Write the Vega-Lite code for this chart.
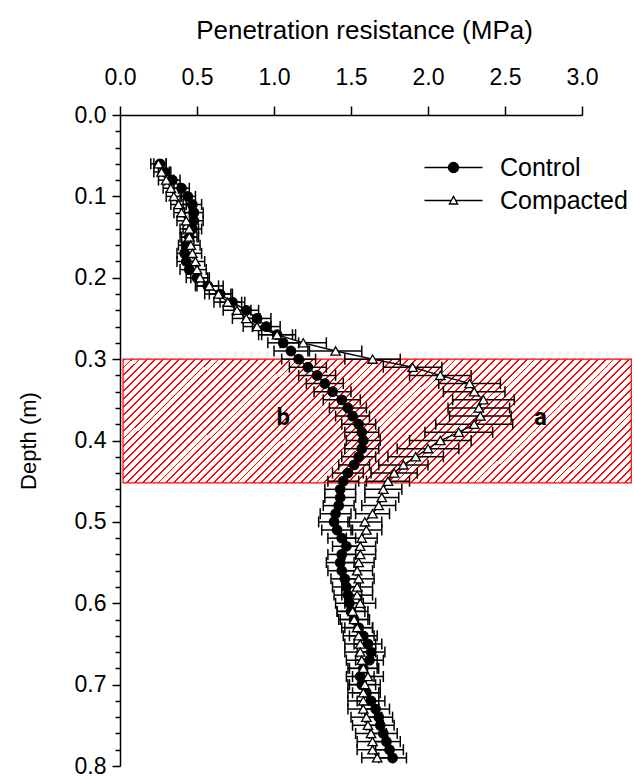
{
  "$schema": "https://vega.github.io/schema/vega-lite/v6.json",
  "width": 462,
  "height": 651,
  "autosize": {"type": "none"},
  "padding": {"left": 120, "top": 115, "right": 52, "bottom": 14},
  "background": "white",
  "config": {
    "view": {"stroke": null},
    "font": "Liberation Sans",
    "axis": {"domainColor": "black", "domainWidth": 1.5, "tickColor": "black", "tickWidth": 1.5, "labelColor": "black", "titleColor": "black", "labelFont": "Liberation Sans", "titleFont": "Liberation Sans", "titleFontWeight": "normal", "grid": false, "labelFontSize": 23, "titleFontSize": 25, "labelFlush": false, "labelOverlap": false}
  },
  "datasets": {
    "zone": [{"v": 0.02, "v2": 3.32, "d": 0.3, "d2": 0.452}],
    "ann": [{"label": "b", "v": 1.06, "d": 0.372}, {"label": "a", "v": 2.73, "d": 0.372}],
    "pr": [
      {"s": "Control", "d": 0.06, "v": 0.26, "e": 0.04},
      {"s": "Control", "d": 0.07, "v": 0.29, "e": 0.04},
      {"s": "Control", "d": 0.08, "v": 0.34, "e": 0.05},
      {"s": "Control", "d": 0.09, "v": 0.40, "e": 0.05},
      {"s": "Control", "d": 0.10, "v": 0.44, "e": 0.05},
      {"s": "Control", "d": 0.11, "v": 0.47, "e": 0.06},
      {"s": "Control", "d": 0.12, "v": 0.48, "e": 0.06},
      {"s": "Control", "d": 0.13, "v": 0.48, "e": 0.06},
      {"s": "Control", "d": 0.14, "v": 0.47, "e": 0.06},
      {"s": "Control", "d": 0.15, "v": 0.45, "e": 0.05},
      {"s": "Control", "d": 0.16, "v": 0.43, "e": 0.05},
      {"s": "Control", "d": 0.17, "v": 0.42, "e": 0.05},
      {"s": "Control", "d": 0.18, "v": 0.43, "e": 0.06},
      {"s": "Control", "d": 0.19, "v": 0.45, "e": 0.06},
      {"s": "Control", "d": 0.20, "v": 0.50, "e": 0.07},
      {"s": "Control", "d": 0.21, "v": 0.57, "e": 0.07},
      {"s": "Control", "d": 0.22, "v": 0.65, "e": 0.07},
      {"s": "Control", "d": 0.23, "v": 0.73, "e": 0.08},
      {"s": "Control", "d": 0.24, "v": 0.82, "e": 0.08},
      {"s": "Control", "d": 0.25, "v": 0.89, "e": 0.09},
      {"s": "Control", "d": 0.26, "v": 0.95, "e": 0.09},
      {"s": "Control", "d": 0.27, "v": 1.02, "e": 0.10},
      {"s": "Control", "d": 0.28, "v": 1.06, "e": 0.10},
      {"s": "Control", "d": 0.29, "v": 1.11, "e": 0.11},
      {"s": "Control", "d": 0.30, "v": 1.16, "e": 0.11},
      {"s": "Control", "d": 0.31, "v": 1.22, "e": 0.12},
      {"s": "Control", "d": 0.32, "v": 1.28, "e": 0.12},
      {"s": "Control", "d": 0.33, "v": 1.33, "e": 0.12},
      {"s": "Control", "d": 0.34, "v": 1.38, "e": 0.12},
      {"s": "Control", "d": 0.35, "v": 1.44, "e": 0.12},
      {"s": "Control", "d": 0.36, "v": 1.48, "e": 0.12},
      {"s": "Control", "d": 0.37, "v": 1.51, "e": 0.11},
      {"s": "Control", "d": 0.38, "v": 1.55, "e": 0.11},
      {"s": "Control", "d": 0.39, "v": 1.57, "e": 0.11},
      {"s": "Control", "d": 0.40, "v": 1.58, "e": 0.11},
      {"s": "Control", "d": 0.41, "v": 1.57, "e": 0.11},
      {"s": "Control", "d": 0.42, "v": 1.55, "e": 0.11},
      {"s": "Control", "d": 0.43, "v": 1.52, "e": 0.10},
      {"s": "Control", "d": 0.44, "v": 1.48, "e": 0.10},
      {"s": "Control", "d": 0.45, "v": 1.45, "e": 0.10},
      {"s": "Control", "d": 0.46, "v": 1.43, "e": 0.10},
      {"s": "Control", "d": 0.47, "v": 1.43, "e": 0.10},
      {"s": "Control", "d": 0.48, "v": 1.42, "e": 0.10},
      {"s": "Control", "d": 0.49, "v": 1.40, "e": 0.10},
      {"s": "Control", "d": 0.50, "v": 1.39, "e": 0.10},
      {"s": "Control", "d": 0.51, "v": 1.41, "e": 0.10},
      {"s": "Control", "d": 0.52, "v": 1.44, "e": 0.09},
      {"s": "Control", "d": 0.53, "v": 1.47, "e": 0.09},
      {"s": "Control", "d": 0.54, "v": 1.44, "e": 0.09},
      {"s": "Control", "d": 0.55, "v": 1.43, "e": 0.09},
      {"s": "Control", "d": 0.56, "v": 1.44, "e": 0.09},
      {"s": "Control", "d": 0.57, "v": 1.46, "e": 0.09},
      {"s": "Control", "d": 0.58, "v": 1.47, "e": 0.09},
      {"s": "Control", "d": 0.59, "v": 1.48, "e": 0.09},
      {"s": "Control", "d": 0.60, "v": 1.49, "e": 0.09},
      {"s": "Control", "d": 0.61, "v": 1.50, "e": 0.09},
      {"s": "Control", "d": 0.62, "v": 1.52, "e": 0.09},
      {"s": "Control", "d": 0.63, "v": 1.55, "e": 0.09},
      {"s": "Control", "d": 0.64, "v": 1.58, "e": 0.09},
      {"s": "Control", "d": 0.65, "v": 1.61, "e": 0.09},
      {"s": "Control", "d": 0.66, "v": 1.63, "e": 0.09},
      {"s": "Control", "d": 0.67, "v": 1.62, "e": 0.09},
      {"s": "Control", "d": 0.68, "v": 1.58, "e": 0.09},
      {"s": "Control", "d": 0.69, "v": 1.56, "e": 0.09},
      {"s": "Control", "d": 0.70, "v": 1.57, "e": 0.09},
      {"s": "Control", "d": 0.71, "v": 1.60, "e": 0.09},
      {"s": "Control", "d": 0.72, "v": 1.63, "e": 0.09},
      {"s": "Control", "d": 0.73, "v": 1.66, "e": 0.09},
      {"s": "Control", "d": 0.74, "v": 1.68, "e": 0.09},
      {"s": "Control", "d": 0.75, "v": 1.69, "e": 0.09},
      {"s": "Control", "d": 0.76, "v": 1.71, "e": 0.09},
      {"s": "Control", "d": 0.77, "v": 1.73, "e": 0.09},
      {"s": "Control", "d": 0.78, "v": 1.75, "e": 0.09},
      {"s": "Control", "d": 0.79, "v": 1.77, "e": 0.09},
      {"s": "Compacted", "d": 0.06, "v": 0.25, "e": 0.05},
      {"s": "Compacted", "d": 0.07, "v": 0.27, "e": 0.05},
      {"s": "Compacted", "d": 0.08, "v": 0.30, "e": 0.05},
      {"s": "Compacted", "d": 0.09, "v": 0.33, "e": 0.05},
      {"s": "Compacted", "d": 0.10, "v": 0.35, "e": 0.05},
      {"s": "Compacted", "d": 0.11, "v": 0.38, "e": 0.05},
      {"s": "Compacted", "d": 0.12, "v": 0.40, "e": 0.05},
      {"s": "Compacted", "d": 0.13, "v": 0.43, "e": 0.06},
      {"s": "Compacted", "d": 0.14, "v": 0.45, "e": 0.06},
      {"s": "Compacted", "d": 0.15, "v": 0.45, "e": 0.06},
      {"s": "Compacted", "d": 0.16, "v": 0.46, "e": 0.06},
      {"s": "Compacted", "d": 0.17, "v": 0.47, "e": 0.06},
      {"s": "Compacted", "d": 0.18, "v": 0.49, "e": 0.06},
      {"s": "Compacted", "d": 0.19, "v": 0.50, "e": 0.06},
      {"s": "Compacted", "d": 0.20, "v": 0.52, "e": 0.06},
      {"s": "Compacted", "d": 0.21, "v": 0.58, "e": 0.09},
      {"s": "Compacted", "d": 0.22, "v": 0.64, "e": 0.09},
      {"s": "Compacted", "d": 0.23, "v": 0.70, "e": 0.09},
      {"s": "Compacted", "d": 0.24, "v": 0.76, "e": 0.09},
      {"s": "Compacted", "d": 0.25, "v": 0.82, "e": 0.09},
      {"s": "Compacted", "d": 0.26, "v": 0.89, "e": 0.09},
      {"s": "Compacted", "d": 0.27, "v": 1.02, "e": 0.12},
      {"s": "Compacted", "d": 0.28, "v": 1.19, "e": 0.15},
      {"s": "Compacted", "d": 0.29, "v": 1.40, "e": 0.17},
      {"s": "Compacted", "d": 0.30, "v": 1.64, "e": 0.18},
      {"s": "Compacted", "d": 0.31, "v": 1.90, "e": 0.19},
      {"s": "Compacted", "d": 0.32, "v": 2.08, "e": 0.20},
      {"s": "Compacted", "d": 0.33, "v": 2.27, "e": 0.20},
      {"s": "Compacted", "d": 0.34, "v": 2.30, "e": 0.20},
      {"s": "Compacted", "d": 0.35, "v": 2.36, "e": 0.20},
      {"s": "Compacted", "d": 0.36, "v": 2.33, "e": 0.20},
      {"s": "Compacted", "d": 0.37, "v": 2.34, "e": 0.20},
      {"s": "Compacted", "d": 0.38, "v": 2.30, "e": 0.25},
      {"s": "Compacted", "d": 0.39, "v": 2.20, "e": 0.22},
      {"s": "Compacted", "d": 0.40, "v": 2.08, "e": 0.20},
      {"s": "Compacted", "d": 0.41, "v": 2.00, "e": 0.20},
      {"s": "Compacted", "d": 0.42, "v": 1.92, "e": 0.18},
      {"s": "Compacted", "d": 0.43, "v": 1.84, "e": 0.16},
      {"s": "Compacted", "d": 0.44, "v": 1.78, "e": 0.15},
      {"s": "Compacted", "d": 0.45, "v": 1.74, "e": 0.14},
      {"s": "Compacted", "d": 0.46, "v": 1.71, "e": 0.12},
      {"s": "Compacted", "d": 0.47, "v": 1.70, "e": 0.11},
      {"s": "Compacted", "d": 0.48, "v": 1.68, "e": 0.11},
      {"s": "Compacted", "d": 0.49, "v": 1.64, "e": 0.11},
      {"s": "Compacted", "d": 0.50, "v": 1.59, "e": 0.11},
      {"s": "Compacted", "d": 0.51, "v": 1.60, "e": 0.10},
      {"s": "Compacted", "d": 0.52, "v": 1.57, "e": 0.10},
      {"s": "Compacted", "d": 0.53, "v": 1.56, "e": 0.10},
      {"s": "Compacted", "d": 0.54, "v": 1.56, "e": 0.10},
      {"s": "Compacted", "d": 0.55, "v": 1.55, "e": 0.10},
      {"s": "Compacted", "d": 0.56, "v": 1.54, "e": 0.10},
      {"s": "Compacted", "d": 0.57, "v": 1.55, "e": 0.10},
      {"s": "Compacted", "d": 0.58, "v": 1.54, "e": 0.10},
      {"s": "Compacted", "d": 0.59, "v": 1.54, "e": 0.10},
      {"s": "Compacted", "d": 0.60, "v": 1.56, "e": 0.10},
      {"s": "Compacted", "d": 0.61, "v": 1.51, "e": 0.10},
      {"s": "Compacted", "d": 0.62, "v": 1.52, "e": 0.10},
      {"s": "Compacted", "d": 0.63, "v": 1.54, "e": 0.10},
      {"s": "Compacted", "d": 0.64, "v": 1.55, "e": 0.10},
      {"s": "Compacted", "d": 0.65, "v": 1.56, "e": 0.10},
      {"s": "Compacted", "d": 0.66, "v": 1.56, "e": 0.10},
      {"s": "Compacted", "d": 0.67, "v": 1.57, "e": 0.10},
      {"s": "Compacted", "d": 0.68, "v": 1.58, "e": 0.10},
      {"s": "Compacted", "d": 0.69, "v": 1.61, "e": 0.10},
      {"s": "Compacted", "d": 0.70, "v": 1.59, "e": 0.10},
      {"s": "Compacted", "d": 0.71, "v": 1.58, "e": 0.10},
      {"s": "Compacted", "d": 0.72, "v": 1.58, "e": 0.10},
      {"s": "Compacted", "d": 0.73, "v": 1.58, "e": 0.10},
      {"s": "Compacted", "d": 0.74, "v": 1.60, "e": 0.10},
      {"s": "Compacted", "d": 0.75, "v": 1.61, "e": 0.10},
      {"s": "Compacted", "d": 0.76, "v": 1.63, "e": 0.10},
      {"s": "Compacted", "d": 0.77, "v": 1.64, "e": 0.10},
      {"s": "Compacted", "d": 0.78, "v": 1.64, "e": 0.10},
      {"s": "Compacted", "d": 0.79, "v": 1.67, "e": 0.10}
    ]
  },
  "encoding": {
    "x": {
      "field": "v", "type": "quantitative",
      "scale": {"domain": [0, 3], "nice": false, "zero": false},
      "axis": {"orient": "top", "values": [0, 0.5, 1, 1.5, 2, 2.5, 3], "format": ".1f", "tickSize": 9, "labelPadding": 17, "title": "Penetration resistance (MPa)", "titleFontSize": 26, "titlePadding": 23, "titleX": 244}
    },
    "y": {
      "field": "d", "type": "quantitative",
      "scale": {"domain": [0, 0.8], "reverse": true, "nice": false, "zero": false},
      "axis": {
        "orient": "left",
        "values": [0, 0.02, 0.04, 0.06, 0.08, 0.1, 0.12, 0.14, 0.16, 0.18, 0.2, 0.22, 0.24, 0.26, 0.28, 0.3, 0.32, 0.34, 0.36, 0.38, 0.4, 0.42, 0.44, 0.46, 0.48, 0.5, 0.52, 0.54, 0.56, 0.58, 0.6, 0.62, 0.64, 0.66, 0.68, 0.7, 0.72, 0.74, 0.76, 0.78, 0.8],
        "labelExpr": "round(datum.value*50) % 5 == 0 ? format(datum.value, '.1f') : ''",
        "tickSize": {"condition": {"test": "round(datum.value*50) % 5 == 0", "value": 8}, "value": 5},
        "labelPadding": 6,
        "title": "Depth (m)",
        "titleFontSize": 22,
        "titlePadding": 34
      }
    }
  },
  "layer": [
    {
      "data": {"name": "zone"},
      "mark": {
        "type": "rect", "stroke": "#ff0000", "strokeWidth": 1.2,
        "fill": {
          "gradient": "linear", "x1": 0, "y1": 0, "x2": 1.174, "y2": 0.2862,
          "stops": [
            {"offset": 0, "color": "#f00"}, {"offset": 0.003, "color": "#f00"}, {"offset": 0.003, "color": "#fff"}, {"offset": 0.0125, "color": "#fff"},
            {"offset": 0.0125, "color": "#f00"}, {"offset": 0.0155, "color": "#f00"}, {"offset": 0.0155, "color": "#fff"}, {"offset": 0.025, "color": "#fff"},
            {"offset": 0.025, "color": "#f00"}, {"offset": 0.028, "color": "#f00"}, {"offset": 0.028, "color": "#fff"}, {"offset": 0.0375, "color": "#fff"},
            {"offset": 0.0375, "color": "#f00"}, {"offset": 0.0405, "color": "#f00"}, {"offset": 0.0405, "color": "#fff"}, {"offset": 0.05, "color": "#fff"},
            {"offset": 0.05, "color": "#f00"}, {"offset": 0.053, "color": "#f00"}, {"offset": 0.053, "color": "#fff"}, {"offset": 0.0625, "color": "#fff"},
            {"offset": 0.0625, "color": "#f00"}, {"offset": 0.0655, "color": "#f00"}, {"offset": 0.0655, "color": "#fff"}, {"offset": 0.075, "color": "#fff"},
            {"offset": 0.075, "color": "#f00"}, {"offset": 0.078, "color": "#f00"}, {"offset": 0.078, "color": "#fff"}, {"offset": 0.0875, "color": "#fff"},
            {"offset": 0.0875, "color": "#f00"}, {"offset": 0.0905, "color": "#f00"}, {"offset": 0.0905, "color": "#fff"}, {"offset": 0.1, "color": "#fff"},
            {"offset": 0.1, "color": "#f00"}, {"offset": 0.103, "color": "#f00"}, {"offset": 0.103, "color": "#fff"}, {"offset": 0.1125, "color": "#fff"},
            {"offset": 0.1125, "color": "#f00"}, {"offset": 0.1155, "color": "#f00"}, {"offset": 0.1155, "color": "#fff"}, {"offset": 0.125, "color": "#fff"},
            {"offset": 0.125, "color": "#f00"}, {"offset": 0.128, "color": "#f00"}, {"offset": 0.128, "color": "#fff"}, {"offset": 0.1375, "color": "#fff"},
            {"offset": 0.1375, "color": "#f00"}, {"offset": 0.1405, "color": "#f00"}, {"offset": 0.1405, "color": "#fff"}, {"offset": 0.15, "color": "#fff"},
            {"offset": 0.15, "color": "#f00"}, {"offset": 0.153, "color": "#f00"}, {"offset": 0.153, "color": "#fff"}, {"offset": 0.1625, "color": "#fff"},
            {"offset": 0.1625, "color": "#f00"}, {"offset": 0.1655, "color": "#f00"}, {"offset": 0.1655, "color": "#fff"}, {"offset": 0.175, "color": "#fff"},
            {"offset": 0.175, "color": "#f00"}, {"offset": 0.178, "color": "#f00"}, {"offset": 0.178, "color": "#fff"}, {"offset": 0.1875, "color": "#fff"},
            {"offset": 0.1875, "color": "#f00"}, {"offset": 0.1905, "color": "#f00"}, {"offset": 0.1905, "color": "#fff"}, {"offset": 0.2, "color": "#fff"},
            {"offset": 0.2, "color": "#f00"}, {"offset": 0.203, "color": "#f00"}, {"offset": 0.203, "color": "#fff"}, {"offset": 0.2125, "color": "#fff"},
            {"offset": 0.2125, "color": "#f00"}, {"offset": 0.2155, "color": "#f00"}, {"offset": 0.2155, "color": "#fff"}, {"offset": 0.225, "color": "#fff"},
            {"offset": 0.225, "color": "#f00"}, {"offset": 0.228, "color": "#f00"}, {"offset": 0.228, "color": "#fff"}, {"offset": 0.2375, "color": "#fff"},
            {"offset": 0.2375, "color": "#f00"}, {"offset": 0.2405, "color": "#f00"}, {"offset": 0.2405, "color": "#fff"}, {"offset": 0.25, "color": "#fff"},
            {"offset": 0.25, "color": "#f00"}, {"offset": 0.253, "color": "#f00"}, {"offset": 0.253, "color": "#fff"}, {"offset": 0.2625, "color": "#fff"},
            {"offset": 0.2625, "color": "#f00"}, {"offset": 0.2655, "color": "#f00"}, {"offset": 0.2655, "color": "#fff"}, {"offset": 0.275, "color": "#fff"},
            {"offset": 0.275, "color": "#f00"}, {"offset": 0.278, "color": "#f00"}, {"offset": 0.278, "color": "#fff"}, {"offset": 0.2875, "color": "#fff"},
            {"offset": 0.2875, "color": "#f00"}, {"offset": 0.2905, "color": "#f00"}, {"offset": 0.2905, "color": "#fff"}, {"offset": 0.3, "color": "#fff"},
            {"offset": 0.3, "color": "#f00"}, {"offset": 0.303, "color": "#f00"}, {"offset": 0.303, "color": "#fff"}, {"offset": 0.3125, "color": "#fff"},
            {"offset": 0.3125, "color": "#f00"}, {"offset": 0.3155, "color": "#f00"}, {"offset": 0.3155, "color": "#fff"}, {"offset": 0.325, "color": "#fff"},
            {"offset": 0.325, "color": "#f00"}, {"offset": 0.328, "color": "#f00"}, {"offset": 0.328, "color": "#fff"}, {"offset": 0.3375, "color": "#fff"},
            {"offset": 0.3375, "color": "#f00"}, {"offset": 0.3405, "color": "#f00"}, {"offset": 0.3405, "color": "#fff"}, {"offset": 0.35, "color": "#fff"},
            {"offset": 0.35, "color": "#f00"}, {"offset": 0.353, "color": "#f00"}, {"offset": 0.353, "color": "#fff"}, {"offset": 0.3625, "color": "#fff"},
            {"offset": 0.3625, "color": "#f00"}, {"offset": 0.3655, "color": "#f00"}, {"offset": 0.3655, "color": "#fff"}, {"offset": 0.375, "color": "#fff"},
            {"offset": 0.375, "color": "#f00"}, {"offset": 0.378, "color": "#f00"}, {"offset": 0.378, "color": "#fff"}, {"offset": 0.3875, "color": "#fff"},
            {"offset": 0.3875, "color": "#f00"}, {"offset": 0.3905, "color": "#f00"}, {"offset": 0.3905, "color": "#fff"}, {"offset": 0.4, "color": "#fff"},
            {"offset": 0.4, "color": "#f00"}, {"offset": 0.403, "color": "#f00"}, {"offset": 0.403, "color": "#fff"}, {"offset": 0.4125, "color": "#fff"},
            {"offset": 0.4125, "color": "#f00"}, {"offset": 0.4155, "color": "#f00"}, {"offset": 0.4155, "color": "#fff"}, {"offset": 0.425, "color": "#fff"},
            {"offset": 0.425, "color": "#f00"}, {"offset": 0.428, "color": "#f00"}, {"offset": 0.428, "color": "#fff"}, {"offset": 0.4375, "color": "#fff"},
            {"offset": 0.4375, "color": "#f00"}, {"offset": 0.4405, "color": "#f00"}, {"offset": 0.4405, "color": "#fff"}, {"offset": 0.45, "color": "#fff"},
            {"offset": 0.45, "color": "#f00"}, {"offset": 0.453, "color": "#f00"}, {"offset": 0.453, "color": "#fff"}, {"offset": 0.4625, "color": "#fff"},
            {"offset": 0.4625, "color": "#f00"}, {"offset": 0.4655, "color": "#f00"}, {"offset": 0.4655, "color": "#fff"}, {"offset": 0.475, "color": "#fff"},
            {"offset": 0.475, "color": "#f00"}, {"offset": 0.478, "color": "#f00"}, {"offset": 0.478, "color": "#fff"}, {"offset": 0.4875, "color": "#fff"},
            {"offset": 0.4875, "color": "#f00"}, {"offset": 0.4905, "color": "#f00"}, {"offset": 0.4905, "color": "#fff"}, {"offset": 0.5, "color": "#fff"},
            {"offset": 0.5, "color": "#f00"}, {"offset": 0.503, "color": "#f00"}, {"offset": 0.503, "color": "#fff"}, {"offset": 0.5125, "color": "#fff"},
            {"offset": 0.5125, "color": "#f00"}, {"offset": 0.5155, "color": "#f00"}, {"offset": 0.5155, "color": "#fff"}, {"offset": 0.525, "color": "#fff"},
            {"offset": 0.525, "color": "#f00"}, {"offset": 0.528, "color": "#f00"}, {"offset": 0.528, "color": "#fff"}, {"offset": 0.5375, "color": "#fff"},
            {"offset": 0.5375, "color": "#f00"}, {"offset": 0.5405, "color": "#f00"}, {"offset": 0.5405, "color": "#fff"}, {"offset": 0.55, "color": "#fff"},
            {"offset": 0.55, "color": "#f00"}, {"offset": 0.553, "color": "#f00"}, {"offset": 0.553, "color": "#fff"}, {"offset": 0.5625, "color": "#fff"},
            {"offset": 0.5625, "color": "#f00"}, {"offset": 0.5655, "color": "#f00"}, {"offset": 0.5655, "color": "#fff"}, {"offset": 0.575, "color": "#fff"},
            {"offset": 0.575, "color": "#f00"}, {"offset": 0.578, "color": "#f00"}, {"offset": 0.578, "color": "#fff"}, {"offset": 0.5875, "color": "#fff"},
            {"offset": 0.5875, "color": "#f00"}, {"offset": 0.5905, "color": "#f00"}, {"offset": 0.5905, "color": "#fff"}, {"offset": 0.6, "color": "#fff"},
            {"offset": 0.6, "color": "#f00"}, {"offset": 0.603, "color": "#f00"}, {"offset": 0.603, "color": "#fff"}, {"offset": 0.6125, "color": "#fff"},
            {"offset": 0.6125, "color": "#f00"}, {"offset": 0.6155, "color": "#f00"}, {"offset": 0.6155, "color": "#fff"}, {"offset": 0.625, "color": "#fff"},
            {"offset": 0.625, "color": "#f00"}, {"offset": 0.628, "color": "#f00"}, {"offset": 0.628, "color": "#fff"}, {"offset": 0.6375, "color": "#fff"},
            {"offset": 0.6375, "color": "#f00"}, {"offset": 0.6405, "color": "#f00"}, {"offset": 0.6405, "color": "#fff"}, {"offset": 0.65, "color": "#fff"},
            {"offset": 0.65, "color": "#f00"}, {"offset": 0.653, "color": "#f00"}, {"offset": 0.653, "color": "#fff"}, {"offset": 0.6625, "color": "#fff"},
            {"offset": 0.6625, "color": "#f00"}, {"offset": 0.6655, "color": "#f00"}, {"offset": 0.6655, "color": "#fff"}, {"offset": 0.675, "color": "#fff"},
            {"offset": 0.675, "color": "#f00"}, {"offset": 0.678, "color": "#f00"}, {"offset": 0.678, "color": "#fff"}, {"offset": 0.6875, "color": "#fff"},
            {"offset": 0.6875, "color": "#f00"}, {"offset": 0.6905, "color": "#f00"}, {"offset": 0.6905, "color": "#fff"}, {"offset": 0.7, "color": "#fff"},
            {"offset": 0.7, "color": "#f00"}, {"offset": 0.703, "color": "#f00"}, {"offset": 0.703, "color": "#fff"}, {"offset": 0.7125, "color": "#fff"},
            {"offset": 0.7125, "color": "#f00"}, {"offset": 0.7155, "color": "#f00"}, {"offset": 0.7155, "color": "#fff"}, {"offset": 0.725, "color": "#fff"},
            {"offset": 0.725, "color": "#f00"}, {"offset": 0.728, "color": "#f00"}, {"offset": 0.728, "color": "#fff"}, {"offset": 0.7375, "color": "#fff"},
            {"offset": 0.7375, "color": "#f00"}, {"offset": 0.7405, "color": "#f00"}, {"offset": 0.7405, "color": "#fff"}, {"offset": 0.75, "color": "#fff"},
            {"offset": 0.75, "color": "#f00"}, {"offset": 0.753, "color": "#f00"}, {"offset": 0.753, "color": "#fff"}, {"offset": 0.7625, "color": "#fff"},
            {"offset": 0.7625, "color": "#f00"}, {"offset": 0.7655, "color": "#f00"}, {"offset": 0.7655, "color": "#fff"}, {"offset": 0.775, "color": "#fff"},
            {"offset": 0.775, "color": "#f00"}, {"offset": 0.778, "color": "#f00"}, {"offset": 0.778, "color": "#fff"}, {"offset": 0.7875, "color": "#fff"},
            {"offset": 0.7875, "color": "#f00"}, {"offset": 0.7905, "color": "#f00"}, {"offset": 0.7905, "color": "#fff"}, {"offset": 0.8, "color": "#fff"},
            {"offset": 0.8, "color": "#f00"}, {"offset": 0.803, "color": "#f00"}, {"offset": 0.803, "color": "#fff"}, {"offset": 0.8125, "color": "#fff"},
            {"offset": 0.8125, "color": "#f00"}, {"offset": 0.8155, "color": "#f00"}, {"offset": 0.8155, "color": "#fff"}, {"offset": 0.825, "color": "#fff"},
            {"offset": 0.825, "color": "#f00"}, {"offset": 0.828, "color": "#f00"}, {"offset": 0.828, "color": "#fff"}, {"offset": 0.8375, "color": "#fff"},
            {"offset": 0.8375, "color": "#f00"}, {"offset": 0.8405, "color": "#f00"}, {"offset": 0.8405, "color": "#fff"}, {"offset": 0.85, "color": "#fff"},
            {"offset": 0.85, "color": "#f00"}, {"offset": 0.853, "color": "#f00"}, {"offset": 0.853, "color": "#fff"}, {"offset": 0.8625, "color": "#fff"},
            {"offset": 0.8625, "color": "#f00"}, {"offset": 0.8655, "color": "#f00"}, {"offset": 0.8655, "color": "#fff"}, {"offset": 0.875, "color": "#fff"},
            {"offset": 0.875, "color": "#f00"}, {"offset": 0.878, "color": "#f00"}, {"offset": 0.878, "color": "#fff"}, {"offset": 0.8875, "color": "#fff"},
            {"offset": 0.8875, "color": "#f00"}, {"offset": 0.8905, "color": "#f00"}, {"offset": 0.8905, "color": "#fff"}, {"offset": 0.9, "color": "#fff"},
            {"offset": 0.9, "color": "#f00"}, {"offset": 0.903, "color": "#f00"}, {"offset": 0.903, "color": "#fff"}, {"offset": 0.9125, "color": "#fff"},
            {"offset": 0.9125, "color": "#f00"}, {"offset": 0.9155, "color": "#f00"}, {"offset": 0.9155, "color": "#fff"}, {"offset": 0.925, "color": "#fff"},
            {"offset": 0.925, "color": "#f00"}, {"offset": 0.928, "color": "#f00"}, {"offset": 0.928, "color": "#fff"}, {"offset": 0.9375, "color": "#fff"},
            {"offset": 0.9375, "color": "#f00"}, {"offset": 0.9405, "color": "#f00"}, {"offset": 0.9405, "color": "#fff"}, {"offset": 0.95, "color": "#fff"},
            {"offset": 0.95, "color": "#f00"}, {"offset": 0.953, "color": "#f00"}, {"offset": 0.953, "color": "#fff"}, {"offset": 0.9625, "color": "#fff"},
            {"offset": 0.9625, "color": "#f00"}, {"offset": 0.9655, "color": "#f00"}, {"offset": 0.9655, "color": "#fff"}, {"offset": 0.975, "color": "#fff"},
            {"offset": 0.975, "color": "#f00"}, {"offset": 0.978, "color": "#f00"}, {"offset": 0.978, "color": "#fff"}, {"offset": 0.9875, "color": "#fff"},
            {"offset": 0.9875, "color": "#f00"}, {"offset": 0.9905, "color": "#f00"}, {"offset": 0.9905, "color": "#fff"}, {"offset": 1, "color": "#fff"}
          ]
        }
      },
      "encoding": {"x2": {"field": "v2"}, "y2": {"field": "d2"}}
    },
    {
      "data": {"name": "pr"},
      "mark": {"type": "errorbar", "ticks": {"opacity": 1, "thickness": 1.5}, "rule": {"opacity": 1, "strokeWidth": 1.5}, "size": 11, "thickness": 1.5, "color": "black"},
      "encoding": {"xError": {"field": "e"}, "detail": {"field": "s"}}
    },
    {
      "data": {"name": "pr"},
      "mark": {"type": "line", "color": "black", "strokeWidth": 1.4},
      "encoding": {"detail": {"field": "s"}, "order": {"field": "d", "type": "quantitative"}}
    },
    {
      "data": {"name": "pr"},
      "mark": {"type": "point", "filled": false, "stroke": "black", "strokeWidth": 1.3, "opacity": 1, "size": 90},
      "encoding": {
        "shape": {"field": "s", "type": "nominal", "scale": {"domain": ["Control", "Compacted"], "range": ["circle", "triangle-up"]}, "legend": null},
        "fill": {"field": "s", "type": "nominal", "scale": {"domain": ["Control", "Compacted"], "range": ["black", "white"]}, "legend": null}
      }
    },
    {
      "data": {"name": "pr"},
      "transform": [{"filter": "datum.d < 0"}],
      "mark": {"type": "point", "filled": false, "strokeWidth": 1.3, "opacity": 1},
      "encoding": {
        "shape": {"field": "s", "type": "nominal",
          "scale": {"domain": ["Control", "Compacted"], "range": ["M-2.9,0H2.9M-0.5,0A0.5,0.5,0,1,1,0.5,0A0.5,0.5,0,1,1,-0.5,0Z", "M-2.9,0H-0.22M0.22,0H2.9M-0.41,0.35L0,-0.41L0.41,0.35Z"]},
          "legend": {"orient": "none", "legendX": 321, "legendY": 40, "title": null, "labelFontSize": 25, "labelFont": "Liberation Sans", "labelColor": "black", "symbolSize": 400, "symbolStrokeWidth": 1.3, "symbolOpacity": 1, "labelOffset": 34, "rowPadding": 7, "padding": 0}},
        "fill": {"field": "s", "type": "nominal", "scale": {"domain": ["Control", "Compacted"], "range": ["black", "white"]},
          "legend": {"orient": "none", "legendX": 321, "legendY": 40, "title": null, "labelFontSize": 25, "labelFont": "Liberation Sans", "labelColor": "black", "symbolSize": 400, "symbolStrokeWidth": 1.3, "symbolOpacity": 1, "labelOffset": 34, "rowPadding": 7, "padding": 0}},
        "stroke": {"field": "s", "type": "nominal", "scale": {"domain": ["Control", "Compacted"], "range": ["black", "black"]},
          "legend": {"orient": "none", "legendX": 321, "legendY": 40, "title": null, "labelFontSize": 25, "labelFont": "Liberation Sans", "labelColor": "black", "symbolSize": 400, "symbolStrokeWidth": 1.3, "symbolOpacity": 1, "labelOffset": 34, "rowPadding": 7, "padding": 0}}
      }
    },
    {
      "data": {"name": "ann"},
      "mark": {"type": "text", "fontWeight": 700, "fontSize": 24, "font": "Roboto", "color": "black"},
      "encoding": {"text": {"field": "label"}}
    }
  ],
  "resolve": {"scale": {"shape": "independent", "fill": "independent", "stroke": "independent"}}
}
